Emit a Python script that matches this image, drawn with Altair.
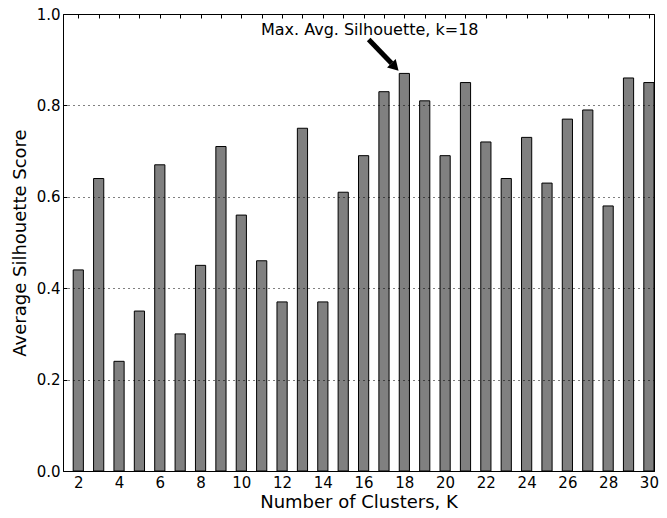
import altair as alt
import pandas as pd

# ---- data ----
k_values = list(range(2, 31))
scores = [0.44, 0.64, 0.24, 0.35, 0.67, 0.30, 0.45, 0.71, 0.56, 0.46,
          0.37, 0.75, 0.37, 0.61, 0.69, 0.83, 0.87, 0.81, 0.69, 0.85,
          0.72, 0.64, 0.73, 0.63, 0.77, 0.79, 0.58, 0.86, 0.85]
y_ticks = [0.0, 0.2, 0.4, 0.6, 0.8, 1.0]

annotation_text = ["Max. Avg. Silhouette, k=18"]
annotation_x = [16.3]
annotation_y = [0.965]
arrow_x = [16.25]
arrow_y = [0.944]
arrow_x2 = [17.37]
arrow_y2 = [0.892]
head_x = [17.54]
head_y = [0.884]

FONT = "DejaVu Sans"

df = pd.DataFrame({"k": k_values, "score": scores})
ann = pd.DataFrame({"text": annotation_text, "x": annotation_x, "y": annotation_y})
arrow = pd.DataFrame({"x": arrow_x, "y": arrow_y, "x2": arrow_x2, "y2": arrow_y2})
head = pd.DataFrame({"x": head_x, "y": head_y})

x_scale = alt.Scale(domain=[1.25, 30.25], nice=False, zero=False)
y_scale = alt.Scale(domain=[0, 1], nice=False)

common = dict(tickSize=4, offset=-4, domain=False, tickColor="black", tickWidth=1,
              labelFont=FONT, labelFontSize=15, labelColor="black",
              titleFont=FONT, titleFontSize=18, titleFontWeight="normal", titleColor="black")

bars = alt.Chart(df).transform_calculate(
    k0="datum.k - 0.25", k1="datum.k + 0.25"
).mark_bar(color="#808080", stroke="black", strokeWidth=1, clip=True).encode(
    x=alt.X("k0:Q", scale=x_scale,
            axis=alt.Axis(values=k_values, orient="bottom",
                          labelExpr="datum.value % 2 === 0 ? datum.label : ''",
                          grid=False, labelPadding=4, title="Number of Clusters, K",
                          titlePadding=3, **common)),
    x2="k1:Q",
    y=alt.Y("score:Q", scale=y_scale,
            axis=alt.Axis(values=y_ticks, orient="left", format=".1f", grid=True,
                          gridColor="black", gridDash=[1, 4], gridWidth=1, gridOpacity=1,
                          zindex=1, labelPadding=3, title="Average Silhouette Score",
                          titlePadding=7, **common)),
    y2=alt.datum(0),
)

text = alt.Chart(ann).mark_text(font=FONT, fontSize=16, color="black").encode(
    x=alt.X("x:Q", scale=x_scale,
            axis=alt.Axis(values=k_values, orient="top", labels=False, grid=False,
                          title=None, **common)),
    y=alt.Y("y:Q", scale=y_scale,
            axis=alt.Axis(values=y_ticks, orient="right", labels=False, grid=False,
                          title=None, **common)),
    text="text:N",
)

shaft = alt.Chart(arrow).mark_rule(color="black", strokeWidth=5).encode(
    x=alt.X("x:Q", scale=x_scale, axis=None),
    y=alt.Y("y:Q", scale=y_scale, axis=None),
    x2="x2:Q",
    y2="y2:Q",
)

arrow_head = alt.Chart(head).mark_point(shape="triangle-up", filled=True, size=144,
                                        color="black", opacity=1, angle=136).encode(
    x=alt.X("x:Q", scale=x_scale, axis=None),
    y=alt.Y("y:Q", scale=y_scale, axis=None),
)

chart = alt.layer(bars, text, shaft, arrow_head).resolve_axis(
    x="independent", y="independent"
).properties(
    width=591, height=457,
    autosize=alt.AutoSizeParams(type="none"),
    padding={"left": 55, "top": 6, "right": 5, "bottom": 39},
    background="white",
).configure_view(stroke="black", strokeWidth=1)

chart.save("out.html", embed_options={"renderer": "svg", "actions": False})
